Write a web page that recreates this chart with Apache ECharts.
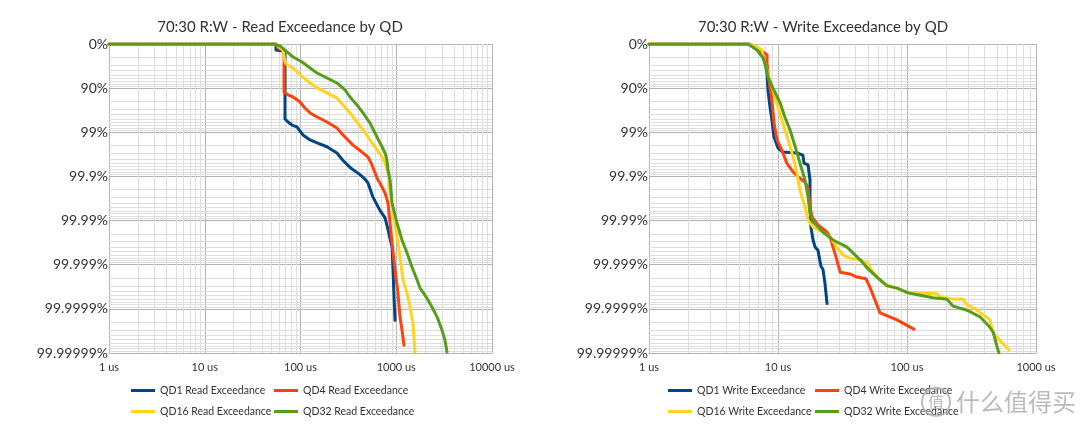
<!DOCTYPE html>
<html><head><meta charset="utf-8">
<script src="https://cdn.jsdelivr.net/npm/echarts@6/dist/echarts.min.js"></script>
<style>html,body{margin:0;padding:0;background:#fff}#c{width:1080px;height:428px}</style>
</head><body><div id="c"></div>
<script>
// ---- data: [latency in us, percentile %] ----
const readQD1 = [[1,0],[55.5,0],[55.5,26.9],[65.6,30.7],[68.9,33.9],[68.9,98.0],[74.1,98.29],[81.5,98.54],[91.8,98.68],[106,99.13],[126,99.33],[149,99.425],[189,99.53],[240,99.66],[278,99.77],[329,99.84],[418,99.89],[472,99.913],[507,99.929],[571,99.966],[676,99.983],[764,99.9885],[820,99.9938],[904,99.9975],[925,99.99924],[948,99.99981],[971,99.999945]];
const readQD4 = [[1,0],[55.5,0],[58.2,18.7],[64.1,26.9],[67.3,33.9],[67.3,91.8],[74.1,93.0],[83.6,93.7],[98.9,95.15],[111,96.45],[126,97.26],[149,97.78],[189,98.29],[240,98.75],[278,99.13],[353,99.487],[439,99.643],[507,99.725],[558,99.818],[600,99.88],[644,99.917],[676,99.929],[764,99.958],[820,99.975],[861,99.9913],[904,99.9969],[971,99.99924],[1042,99.99977],[1094,99.999934],[1148,99.999967],[1205,99.999985]];
const readQD16 = [[1,0],[55.5,0],[59.6,14.5],[65.6,26.9],[68.9,60.9],[72.3,66.6],[83.6,71.4],[98.9,80.0],[126,86.9],[149,89.9],[189,92.2],[240,94.0],[278,95.85],[329,97.26],[389,98.29],[450,98.87],[532,99.33],[630,99.6],[710,99.725],[764,99.8],[820,99.88],[839,99.917],[861,99.951],[925,99.985],[1019,99.9957],[1094,99.9985],[1178,99.99955],[1294,99.99977],[1393,99.99989],[1496,99.999952],[1570,99.9999895]];
const readQD32 = [[1,0],[52.8,0],[61.1,9.8],[72.3,33.9],[83.6,49.3],[104,60.9],[126,71.4],[149,78.0],[189,83.0],[240,86.9],[292,90.9],[329,93.7],[389,95.85],[450,97.26],[532,98.38],[630,99.22],[710,99.53],[764,99.66],[800,99.77],[820,99.859],[861,99.917],[904,99.975],[1019,99.9913],[1148,99.99637],[1294,99.99814],[1459,99.99911],[1648,99.999543],[1770,99.999705],[1995,99.999796],[2148,99.999842],[2360,99.99989],[2667,99.999934],[3006,99.999967],[3228,99.9999805],[3388,99.9999895]];

const writeQD1 = [[1,0],[6.07,0],[6.4,14.5],[7.52,37.5],[7.93,62.8],[8.22,78.0],[8.36,90.9],[8.67,96.26],[8.97,98.1],[9.31,99.22],[10.0,99.56],[10.9,99.643],[14.0,99.66],[15.6,99.695],[15.9,99.8],[17.1,99.818],[17.7,99.917],[17.7,99.966],[17.8,99.985],[18.0,99.9929],[18.7,99.99637],[19.4,99.9975],[20.4,99.99786],[21.5,99.99907],[22.3,99.99921],[23.1,99.99961],[24.0,99.999868]];
const writeQD4 = [[1,0],[6.07,0],[7.66,33.9],[8.22,43.8],[8.22,62.8],[8.51,84.7],[8.97,94.63],[9.31,98.38],[9.82,99.33],[10.7,99.6],[11.7,99.8],[13.1,99.874],[14.3,99.902],[16.2,99.926],[17.1,99.9425],[17.7,99.9796],[18.4,99.988],[20.4,99.99206],[24.0,99.9945],[25.3,99.9957],[26.7,99.9975],[28.6,99.99871],[30.3,99.999324],[36.1,99.999383],[40.9,99.999475],[48.1,99.999521],[51.6,99.999691],[56.5,99.999842],[61.8,99.9999187],[83.6,99.9999438],[113,99.9999653]];
const writeQD16 = [[1,0],[6.07,0],[6.87,14.5],[7.52,26.9],[7.66,49.3],[8.36,78.0],[9.14,90.9],[10.0,96.26],[10.9,98.38],[12.0,99.33],[13.1,99.725],[14.0,99.88],[14.8,99.951],[16.2,99.9796],[17.1,99.9898],[18.7,99.9929],[22.3,99.9945],[25.3,99.9957],[28.6,99.9975],[31.9,99.99834],[36.1,99.99859],[43.3,99.99871],[49.0,99.9989],[54.5,99.999324],[61.8,99.99955],[70.0,99.999653],[83.6,99.999705],[102,99.99977],[126,99.99977],[171,99.999781],[180,99.999814],[228,99.999834],[272,99.999834],[292,99.999877],[349,99.9999067],[440,99.9999438],[465,99.9999718],[618,99.9999883]];
const writeQD32 = [[1,0],[5.85,0],[6.87,26.9],[7.66,51.8],[8.07,69.8],[8.36,82.2],[9.14,90.0],[10.4,95.4],[11.3,97.78],[12.4,98.87],[13.6,99.53],[14.8,99.8],[16.2,99.917],[17.1,99.966],[17.7,99.985],[18.7,99.99067],[22.3,99.9945],[26.7,99.99637],[34.3,99.9975],[38.1,99.99814],[43.3,99.99871],[49.0,99.999149],[58.5,99.999475],[70.0,99.999669],[83.6,99.999705],[102,99.99977],[126,99.999796],[159,99.999822],[204,99.999834],[228,99.999885],[292,99.9999067],[368,99.999934],[425,99.9999573],[465,99.9999698],[499,99.9999862],[516,99.99999]];

const titles = ['70:30 R:W - Read Exceedance by QD', '70:30 R:W - Write Exceedance by QD'];
const readNames = ['QD1 Read Exceedance','QD4 Read Exceedance','QD16 Read Exceedance','QD32 Read Exceedance'];
const writeNames = ['QD1 Write Exceedance','QD4 Write Exceedance','QD16 Write Exceedance','QD32 Write Exceedance'];
const yTickLabels = ['0%','90%','99%','99.9%','99.99%','99.999%','99.9999%','99.99999%'];
const xTickLabelsRead = ['1 us','10 us','100 us','1000 us','10000 us'];
const xTickLabelsWrite = ['1 us','10 us','100 us','1000 us'];
// ---------------------------------------------

const colors = ['#004586','#ff420e','#ffd320','#579d1c'];
const FONT = 'Lato';
const toY = p => 100 / (100 - p);

function lineSeries(name, data, color, gi) {
  return {
    name, type: 'line', xAxisIndex: gi, yAxisIndex: gi,
    data: data.map(d => [d[0], toY(d[1])]),
    showSymbol: false, symbol: 'none', z: 3,
    lineStyle: { width: 3, color, cap: 'round', join: 'round' },
    itemStyle: { color }, emphasis: { disabled: true }
  };
}
function minorGrid(gi, xDecades, yDecades) {
  const d = [];
  for (let k = 0; k < xDecades; k++) for (let m = 2; m <= 9; m++) d.push({ xAxis: m * Math.pow(10, k) });
  for (let k = 0; k < yDecades; k++) for (let m = 2; m <= 9; m++) d.push({ yAxis: m * Math.pow(10, k) });
  return {
    type: 'line', xAxisIndex: gi, yAxisIndex: gi, data: [[1, 1]], symbol: 'none',
    lineStyle: { opacity: 0 }, silent: true, z: 1,
    markLine: { silent: true, symbol: ['none','none'], label: { show: false }, z: 1, animation: false,
      lineStyle: { color: '#dedede', width: 1, type: 'solid' },
      emphasis: { disabled: true }, data: d }
  };
}
function xAxis(gi, max, labels) {
  return {
    type: 'log', logBase: 10, gridIndex: gi, min: 1, max, splitNumber: labels.length - 1,
    axisLine: { show: true, lineStyle: { color: '#b3b3b3' } },
    axisTick: { show: false },
    splitLine: { show: true, lineStyle: { color: '#b3b3b3', width: 1 } },
    axisLabel: { color: '#333', fontFamily: FONT, fontSize: 11, margin: 9,
      formatter: v => labels[Math.round(Math.log10(v))] }
  };
}
function yAxis(gi) {
  return {
    type: 'log', logBase: 10, gridIndex: gi, min: 1, max: 1e7, inverse: true, splitNumber: 7,
    axisLine: { show: true, lineStyle: { color: '#b3b3b3' } },
    axisTick: { show: false },
    splitLine: { show: true, lineStyle: { color: '#b3b3b3', width: 1 } },
    axisLabel: { color: '#333', fontFamily: FONT, fontSize: 14, margin: 1,
      formatter: v => yTickLabels[Math.round(Math.log10(v))] }
  };
}
function legends(names, xs, rowsTop) {
  return names.map((n, i) => ({
    data: [n], left: xs[i % 2], top: rowsTop[Math.floor(i / 2)], padding: 0,
    itemWidth: 24, itemHeight: 3, icon: 'rect', itemGap: 0,
    textStyle: { color: '#333', fontFamily: FONT, fontSize: 10.5 }
  }));
}

const chart = echarts.init(document.getElementById('c'), null, { renderer: 'canvas' });
chart.setOption({
  animation: false,
  backgroundColor: '#fff',
  color: colors,
  title: [
    { text: titles[0], left: 275, top: 15, textAlign: 'center',
      textStyle: { color: '#333', fontFamily: FONT, fontSize: 15, fontWeight: 'normal' } },
    { text: titles[1], left: 818, top: 15, textAlign: 'center',
      textStyle: { color: '#333', fontFamily: FONT, fontSize: 15, fontWeight: 'normal' } }
  ],
  grid: [
    { left: 109, top: 44, width: 383, height: 309, containLabel: false },
    { left: 649, top: 44, width: 387, height: 309, containLabel: false }
  ],
  xAxis: [xAxis(0, 10000, xTickLabelsRead), xAxis(1, 1000, xTickLabelsWrite)],
  yAxis: [yAxis(0), yAxis(1)],
  legend: [
    ...legends(readNames, [131, 274], [385, 406]),
    ...legends(writeNames, [668, 815], [385, 406])
  ],
  series: [
    minorGrid(0, 4, 7), minorGrid(1, 3, 7),
    lineSeries(readNames[0], readQD1, colors[0], 0),
    lineSeries(readNames[1], readQD4, colors[1], 0),
    lineSeries(readNames[2], readQD16, colors[2], 0),
    lineSeries(readNames[3], readQD32, colors[3], 0),
    lineSeries(writeNames[0], writeQD1, colors[0], 1),
    lineSeries(writeNames[1], writeQD4, colors[1], 1),
    lineSeries(writeNames[2], writeQD16, colors[2], 1),
    lineSeries(writeNames[3], writeQD32, colors[3], 1)
  ],
  graphic: [
    { type: 'circle', shape: { cx: 936, cy: 402, r: 14 }, style: { fill: 'none', stroke: 'rgba(175,175,175,0.85)', lineWidth: 2 }, z: 100 },
    { type: 'text', x: 936, y: 402, style: { text: '值', fill: 'rgba(175,175,175,0.85)', font: '16px "Noto Sans CJK SC"', align: 'center', verticalAlign: 'middle' }, z: 100 },
    { type: 'text', x: 956, y: 402, style: { text: '什么值得买', fill: 'rgba(175,175,175,0.85)', font: '24px "Noto Sans CJK SC"', align: 'left', verticalAlign: 'middle' }, z: 100 }
  ]
});
</script></body></html>
